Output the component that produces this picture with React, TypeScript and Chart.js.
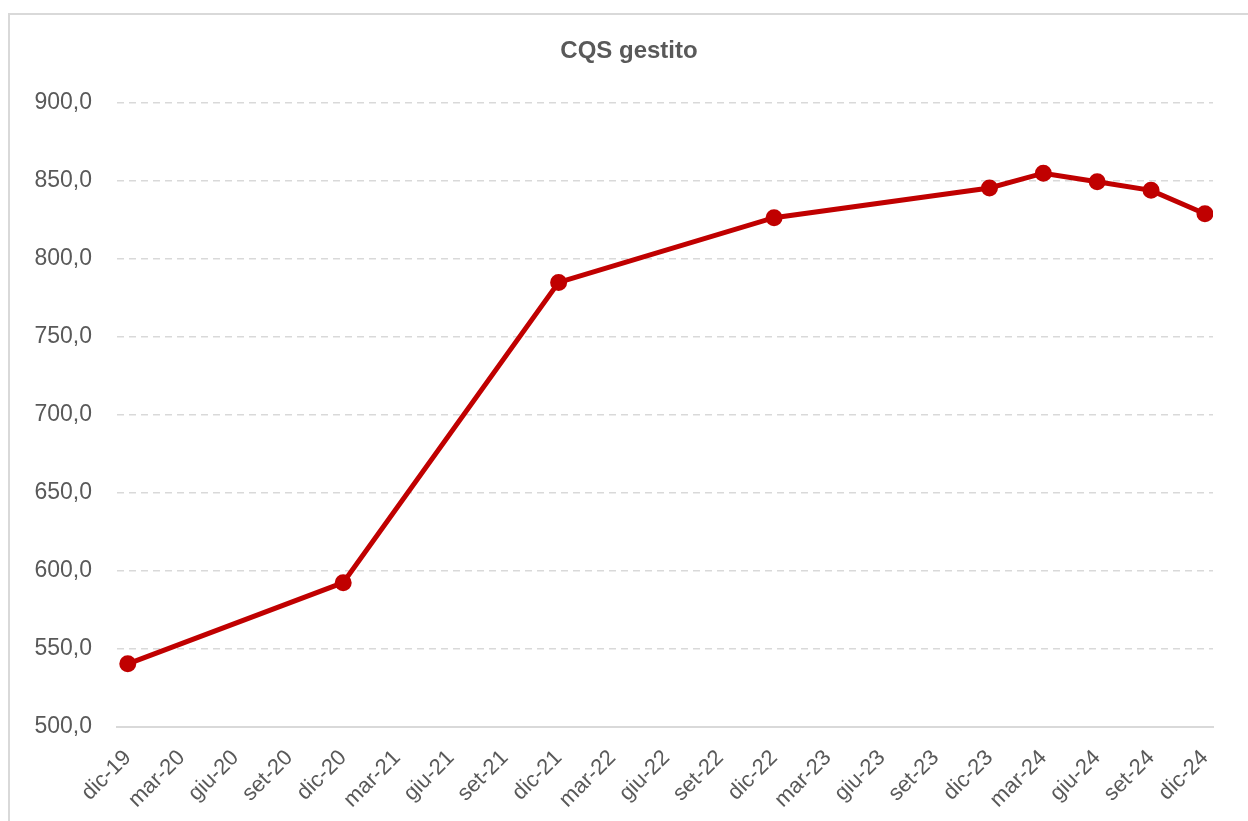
import React, { useEffect, useRef } from "react";
import { Chart, registerables } from "chart.js";

Chart.register(...registerables);

const categories = [
  "dic-19", "mar-20", "giu-20", "set-20", "dic-20", "mar-21", "giu-21", "set-21",
  "dic-21", "mar-22", "giu-22", "set-22", "dic-22", "mar-23", "giu-23", "set-23",
  "dic-23", "mar-24", "giu-24", "set-24", "dic-24",
];

const cqsGestito: (number | null)[] = [
  540.5, null, null, null, 592.5, null, null, null,
  785, null, null, null, 826.5, null, null, null,
  845.5, 855, 849.5, 844, 829,
];

const yTicks = [500, 550, 600, 650, 700, 750, 800, 850, 900];

const FONT = "'Liberation Sans', Arial, sans-serif";
const GREY = "#595959";
const GRID = "#d9d9d9";

export default function App() {
  const canvasRef = useRef<HTMLCanvasElement | null>(null);

  useEffect(() => {
    document.body.style.overflow = "hidden";
    const ctx = canvasRef.current!;
    const points = cqsGestito
      .map((v, i) => (v === null ? null : { x: i, y: v }))
      .filter((p) => p !== null);
    const chart = new Chart(ctx, {
      type: "line",
      data: {
        datasets: [
          {
            label: "CQS gestito",
            data: points as any,
            borderColor: "#C00000",
            backgroundColor: "#C00000",
            borderWidth: 5,
            pointRadius: 6,
            pointHoverRadius: 6,
            pointBackgroundColor: "#C00000",
            pointBorderColor: "#C00000",
            tension: 0,
          },
        ],
      },
      options: {
        animation: false,
        responsive: false,
        layout: { padding: 0 },
        plugins: {
          legend: { display: false },
          tooltip: { enabled: false },
          title: {
            display: true,
            text: "CQS gestito",
            color: GREY,
            font: { family: FONT, size: 24, weight: "bold", lineHeight: 1.2 },
            padding: { top: 21.6, bottom: 37.6 },
          },
        },
        scales: {
          x: {
            type: "linear",
            min: -0.2,
            max: 20.15,
            afterBuildTicks: (scale: any) => {
              scale.ticks = categories.map((_, i) => ({ value: i }));
            },
            afterFit: (scale: any) => {
              scale.height = 94;
            },
            grid: { display: false },
            border: { display: true, color: GRID, width: 2 },
            ticks: {
              autoSkip: false,
              maxRotation: 45,
              minRotation: 45,
              padding: 10,
              color: GREY,
              font: { family: FONT, size: 22 },
              callback: (v: any) => categories[Math.round(Number(v))] ?? "",
            },
          },
          y: {
            min: yTicks[0],
            max: yTicks[yTicks.length - 1],
            afterBuildTicks: (scale: any) => {
              scale.ticks = yTicks.map((v) => ({ value: v }));
            },
            afterFit: (scale: any) => {
              scale.width = 107;
            },
            grid: {
              color: GRID,
              lineWidth: 1.5,
              drawTicks: false,
            },
            border: { display: false, dash: [7, 5] },
            ticks: {
              padding: 25,
              color: GREY,
              font: { family: FONT, size: 23 },
              callback: (v: any) => Number(v).toFixed(1).replace(".", ","),
            },
          },
          yRightSpace: {
            type: "linear",
            position: "right",
            display: true,
            min: yTicks[0],
            max: yTicks[yTicks.length - 1],
            afterFit: (scale: any) => {
              scale.width = 35;
            },
            grid: { display: false, drawOnChartArea: false },
            border: { display: false },
            ticks: { display: false },
          },
        },
      },
    } as any);
    return () => chart.destroy();
  }, []);

  return (
    <div
      style={{
        position: "absolute",
        left: 8,
        top: 13,
        width: 1240,
        height: 808,
        boxSizing: "border-box",
        borderLeft: "2px solid #d9d9d9",
        borderTop: "2px solid #d9d9d9",
        background: "#fff",
      }}
    >
      <canvas
        ref={canvasRef}
        width={1238}
        height={806}
        style={{ display: "block", width: 1238, height: 806 }}
      />
    </div>
  );
}
